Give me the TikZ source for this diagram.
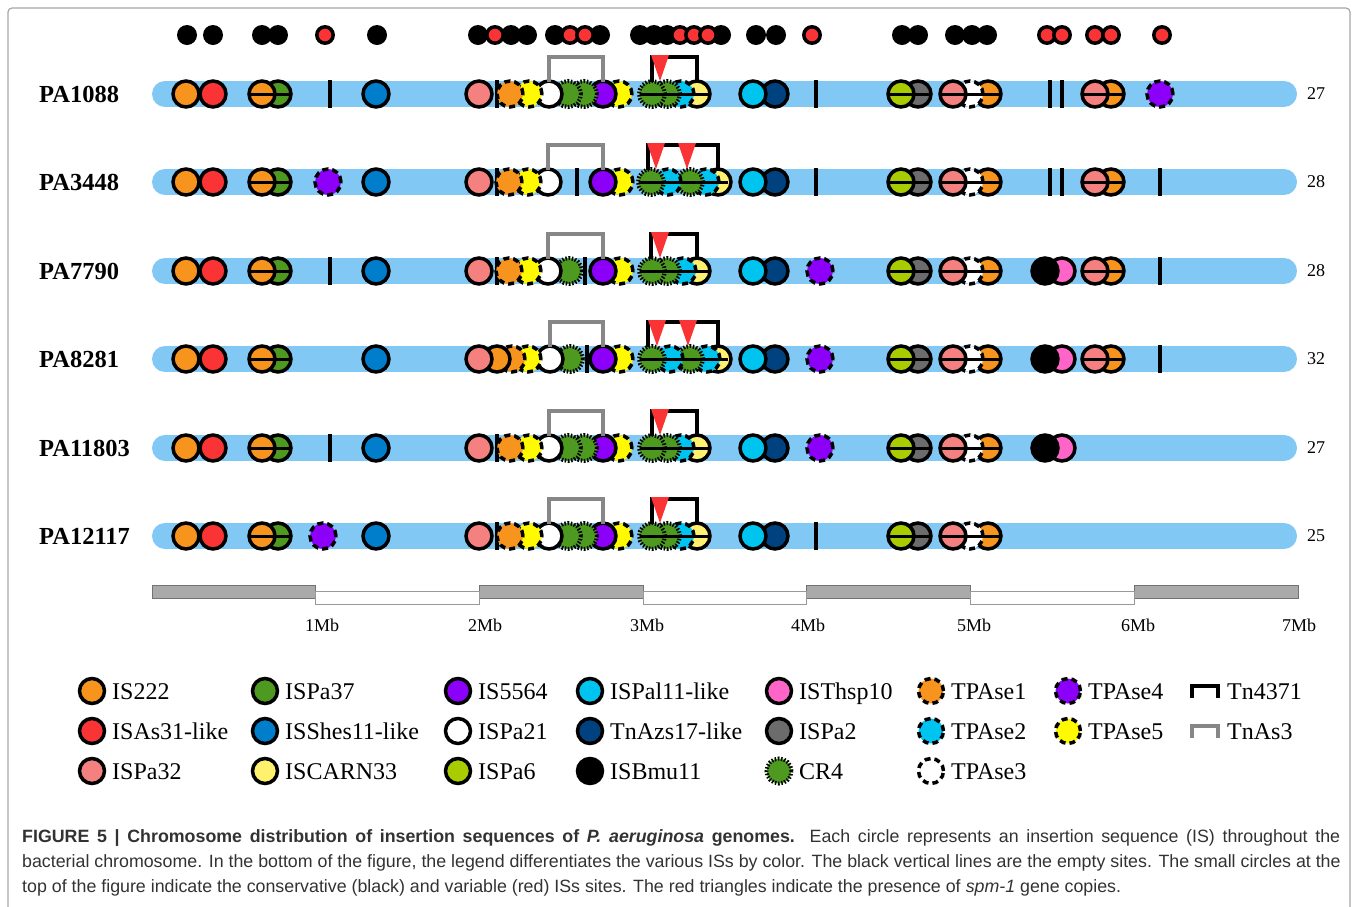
\documentclass[tikz,border=0pt]{standalone}
\usepackage{fontspec}
\usepackage{xcolor}
\usepackage{tikz}
\setmainfont{Liberation Serif}
\newfontfamily\capsans{Liberation Sans}

\definecolor{barblue}{RGB}{130,200,245}
\definecolor{isorange}{RGB}{247,148,29}
\definecolor{isred}{RGB}{250,52,52}
\definecolor{issalmon}{RGB}{245,128,128}
\definecolor{isgreen}{RGB}{78,154,32}
\definecolor{isblue}{RGB}{0,126,204}
\definecolor{iscream}{RGB}{255,240,110}
\definecolor{ispurple}{RGB}{140,0,250}
\definecolor{islime}{RGB}{168,204,0}
\definecolor{iscyan}{RGB}{0,196,240}
\definecolor{isnavy}{RGB}{0,66,128}
\definecolor{ispink}{RGB}{255,100,200}
\definecolor{isgray}{RGB}{108,108,108}
\definecolor{tpyellow}{RGB}{255,250,0}
\definecolor{scalegray}{RGB}{170,170,170}
\definecolor{captext}{RGB}{50,50,50}

\begin{document}
\begin{tikzpicture}[x=1pt, y=-1pt,
    is/.style={draw=black, line width=3.5pt},
    tp/.style={draw=black, line width=3.5pt, dash pattern=on 6pt off 4pt},
    IS222/.style={is, fill=isorange},
    ISAs31/.style={is, fill=isred},
    ISPa32/.style={is, fill=issalmon},
    ISPa37/.style={is, fill=isgreen},
    ISShes11/.style={is, fill=isblue},
    ISCARN33/.style={is, fill=iscream},
    IS5564/.style={is, fill=ispurple},
    ISPa21/.style={is, fill=white},
    ISPa6/.style={is, fill=islime},
    ISPal11/.style={is, fill=iscyan},
    TnAzs17/.style={is, fill=isnavy},
    ISBmu11/.style={is, fill=black},
    ISThsp10/.style={is, fill=ispink},
    ISPa2/.style={is, fill=isgray},
    CR4/.style={fill=isgreen, draw=black, line width=4pt, dash pattern=on 1.5pt off 1.7pt},
    TPAse1/.style={tp, fill=isorange},
    TPAse2/.style={tp, fill=iscyan},
    TPAse3/.style={tp, fill=white},
    TPAse4/.style={tp, fill=ispurple},
    TPAse5/.style={tp, fill=tpyellow},
    site/.style={line width=4pt},
    link/.style={line width=3pt},
    tnas/.style={draw=black!47, line width=4pt},
    tnbr/.style={draw=black, line width=4pt},
    spm/.style={fill=isred},
    genome/.style={font=\bfseries\fontsize{24.5}{28}\selectfont, anchor=west, inner sep=0pt},
    count/.style={font=\fontsize{18}{22}\selectfont, anchor=west, inner sep=0pt},
    key/.style={font=\fontsize{24}{28}\selectfont, anchor=base west, inner sep=0pt},
    mb/.style={font=\fontsize{18}{22}\selectfont},
    captxt/.style={font=\capsans\fontsize{17.8}{20}\selectfont, text=captext, anchor=base west, inner sep=0pt}]

\useasboundingbox (0,0) rectangle (1358,906);
\draw[black!35, line width=1.2pt, rounded corners=4pt] (8,910) |- (1350,8) -- (1350,910);

\foreach \x in {187,213,262,278,377,478,511,527,555,600,640,654,667,721,756,776,902,918,955,972,987}
  \fill (\x,35) circle (10pt);
\foreach \x in {325,495,570,585,680,694,708,812,1047,1062,1095,1111,1162}
  \draw[fill=isred, line width=3.5pt] (\x,35) circle (8.2pt);

\foreach \y in {94,182,271,359,448,536}
  \draw[barblue, line width=26pt, line cap=round] (165,\y) -- (1284,\y);

\begin{scope}[shift={(0,94)}]
  \foreach \x in {330,497,816,1050,1062} \draw[site] (\x,-14) -- (\x,14);
  \foreach \x/\s in {1160/TPAse4, 1111/IS222, 1095/ISPa32, 988/IS222, 970/TPAse3, 953/ISPa32, 918/ISPa2, 901/ISPa6, 775/TnAzs17, 753/ISPal11, 697/ISCARN33, 681/TPAse2, 667/CR4, 652/CR4, 619/TPAse5, 603/IS5564, 584/CR4, 568/CR4, 549/ISPa21, 529/TPAse5, 510/TPAse1, 479/ISPa32, 376/ISShes11, 278/ISPa37, 262/IS222, 213/ISAs31, 186/IS222}
    \draw[\s] (\x,0) circle (13pt);
  \foreach \a/\b in {250/290, 640/708, 889/930, 941/1000, 1083/1123} \draw[link] (\a,0) -- (\b,0);
  \draw[tnas] (549,-12) |- (576,-37) -| (603,-12);
  \draw[tnbr] (652,-12) |- (675,-37) -| (697,-12);
  \fill[spm] (651,-39) -- (669,-39) -- (660,-13) -- cycle;
\end{scope}

\begin{scope}[shift={(0,182)}]
  \foreach \x in {497,577,816,1050,1062,1160} \draw[site] (\x,-14) -- (\x,14);
  \foreach \x/\s in {1111/IS222, 1095/ISPa32, 988/IS222, 970/TPAse3, 953/ISPa32, 918/ISPa2, 901/ISPa6, 775/TnAzs17, 753/ISPal11, 718/ISCARN33, 706/TPAse2, 690/CR4, 668/TPAse2, 651/CR4, 620/TPAse5, 603/IS5564, 548/ISPa21, 528/TPAse5, 509/TPAse1, 479/ISPa32, 376/ISShes11, 328/TPAse4, 278/ISPa37, 262/IS222, 213/ISAs31, 186/IS222}
    \draw[\s] (\x,0) circle (13pt);
  \foreach \a/\b in {250/290, 639/728, 889/930, 941/1000, 1083/1123} \draw[link] (\a,0) -- (\b,0);
  \draw[tnas] (548,-12) |- (576,-37) -| (603,-12);
  \draw[tnbr] (648,-12) |- (683,-37) -| (718,-12);
  \fill[spm] (647,-39) -- (665,-39) -- (656,-13) -- cycle;
  \fill[spm] (678,-39) -- (696,-39) -- (687,-13) -- cycle;
\end{scope}

\begin{scope}[shift={(0,271)}]
  \foreach \x in {330,497,585,1160} \draw[site] (\x,-14) -- (\x,14);
  \foreach \x/\s in {1111/IS222, 1095/ISPa32, 1062/ISThsp10, 1045/ISBmu11, 988/IS222, 970/TPAse3, 953/ISPa32, 918/ISPa2, 901/ISPa6, 820/TPAse4, 775/TnAzs17, 753/ISPal11, 697/ISCARN33, 683/TPAse2, 667/CR4, 652/CR4, 620/TPAse5, 603/IS5564, 569/CR4, 548/ISPa21, 528/TPAse5, 509/TPAse1, 479/ISPa32, 376/ISShes11, 278/ISPa37, 262/IS222, 213/ISAs31, 186/IS222}
    \draw[\s] (\x,0) circle (13pt);
  \foreach \a/\b in {250/290, 640/708, 889/930, 941/1000, 1083/1123} \draw[link] (\a,0) -- (\b,0);
  \draw[tnas] (548,-12) |- (576,-37) -| (603,-12);
  \draw[tnbr] (651,-12) |- (674,-37) -| (697,-12);
  \fill[spm] (651,-39) -- (669,-39) -- (660,-13) -- cycle;
\end{scope}

\begin{scope}[shift={(0,359)}]
  \foreach \x in {587,1160} \draw[site] (\x,-14) -- (\x,14);
  \foreach \x/\s in {1111/IS222, 1095/ISPa32, 1062/ISThsp10, 1045/ISBmu11, 988/IS222, 970/TPAse3, 953/ISPa32, 918/ISPa2, 901/ISPa6, 820/TPAse4, 775/TnAzs17, 753/ISPal11, 718/ISCARN33, 707/TPAse2, 690/CR4, 670/TPAse2, 652/CR4, 620/TPAse5, 603/IS5564, 570/CR4, 550/ISPa21, 528/TPAse5, 512/TPAse1, 497/IS222, 479/ISPa32, 376/ISShes11, 278/ISPa37, 262/IS222, 213/ISAs31, 186/IS222}
    \draw[\s] (\x,0) circle (13pt);
  \foreach \a/\b in {250/290, 640/728, 889/930, 941/1000, 1083/1123} \draw[link] (\a,0) -- (\b,0);
  \draw[tnas] (550,-12) |- (576,-37) -| (603,-12);
  \draw[tnbr] (648,-12) |- (683,-37) -| (718,-12);
  \fill[spm] (648,-39) -- (666,-39) -- (657,-13) -- cycle;
  \fill[spm] (679,-39) -- (697,-39) -- (688,-13) -- cycle;
\end{scope}

\begin{scope}[shift={(0,448)}]
  \foreach \x in {330,497} \draw[site] (\x,-14) -- (\x,14);
  \foreach \x/\s in {1062/ISThsp10, 1045/ISBmu11, 988/IS222, 970/TPAse3, 953/ISPa32, 918/ISPa2, 901/ISPa6, 820/TPAse4, 775/TnAzs17, 753/ISPal11, 697/ISCARN33, 681/TPAse2, 667/CR4, 652/CR4, 619/TPAse5, 603/IS5564, 584/CR4, 568/CR4, 549/ISPa21, 529/TPAse5, 510/TPAse1, 479/ISPa32, 376/ISShes11, 278/ISPa37, 262/IS222, 213/ISAs31, 186/IS222}
    \draw[\s] (\x,0) circle (13pt);
  \foreach \a/\b in {250/290, 640/708, 889/930, 941/1000} \draw[link] (\a,0) -- (\b,0);
  \draw[tnas] (549,-12) |- (576,-37) -| (603,-12);
  \draw[tnbr] (652,-12) |- (675,-37) -| (697,-12);
  \fill[spm] (651,-39) -- (669,-39) -- (660,-13) -- cycle;
\end{scope}

\begin{scope}[shift={(0,536)}]
  \foreach \x in {497,816} \draw[site] (\x,-14) -- (\x,14);
  \foreach \x/\s in {988/IS222, 970/TPAse3, 953/ISPa32, 918/ISPa2, 901/ISPa6, 775/TnAzs17, 753/ISPal11, 697/ISCARN33, 681/TPAse2, 667/CR4, 652/CR4, 619/TPAse5, 603/IS5564, 584/CR4, 568/CR4, 549/ISPa21, 529/TPAse5, 510/TPAse1, 479/ISPa32, 376/ISShes11, 323/TPAse4, 278/ISPa37, 262/IS222, 213/ISAs31, 186/IS222}
    \draw[\s] (\x,0) circle (13pt);
  \foreach \a/\b in {250/290, 640/708, 889/930, 941/1000} \draw[link] (\a,0) -- (\b,0);
  \draw[tnas] (549,-12) |- (576,-37) -| (603,-12);
  \draw[tnbr] (652,-12) |- (675,-37) -| (697,-12);
  \fill[spm] (651,-39) -- (669,-39) -- (660,-13) -- cycle;
\end{scope}

\node[genome] (pa1088) at (39,94) {PA1088};
\node[genome] (pa3448) at (39,182) {PA3448};
\node[genome] (pa7790) at (39,271) {PA7790};
\node[genome] (pa8281) at (39,359) {PA8281};
\node[genome] (pa11803) at (39,448) {PA11803};
\node[genome] (pa12117) at (39,536) {PA12117};

\node[count] (n1088) at (1307,94) {27};
\node[count] (n3448) at (1307,182) {28};
\node[count] (n7790) at (1307,271) {28};
\node[count] (n8281) at (1307,359) {32};
\node[count] (n11803) at (1307,448) {27};
\node[count] (n12117) at (1307,536) {25};

\foreach \a in {0,2,4,6}
  \draw[fill=scalegray, draw=black!55, line width=0.8pt] ({152+163.7*\a},585) rectangle ++(163.7,13);
\foreach \a in {1,3,5}
  \draw[fill=white, draw=black!40, line width=0.8pt] ({152+163.7*\a},591) rectangle ++(163.7,13);
\foreach \m/\x in {1/322, 2/485, 3/647, 4/808, 5/974, 6/1138, 7/1299}
  \node[mb] (mb\m) at (\x,625) {\m Mb};

\foreach \x/\y/\s/\t in {92/691/IS222/IS222, 92/731/ISAs31/ISAs31-like, 92/771/ISPa32/ISPa32,
    265/691/ISPa37/ISPa37, 265/731/ISShes11/ISShes11-like, 265/771/ISCARN33/ISCARN33,
    458/691/IS5564/IS5564, 458/731/ISPa21/ISPa21, 458/771/ISPa6/ISPa6,
    590/691/ISPal11/ISPal11-like, 590/731/TnAzs17/TnAzs17-like, 590/771/ISBmu11/ISBmu11,
    779/691/ISThsp10/ISThsp10, 779/731/ISPa2/ISPa2, 779/771/CR4/CR4,
    931/691/TPAse1/TPAse1, 931/731/TPAse2/TPAse2, 931/771/TPAse3/TPAse3,
    1068/691/TPAse4/TPAse4, 1068/731/TPAse5/TPAse5}
{
  \draw[\s] (\x,\y) circle (12.5pt);
  \node[key] (k\s) at (\x+20,\y+8) {\t};
}
\draw[tnbr] (1192,698) |- (1218,686) -- (1218,698);
\node[key] (ktn4371) at (1227,699) {Tn4371};
\draw[tnas] (1192,738) |- (1218,726) -- (1218,738);
\node[key] (ktnas3) at (1227,739) {TnAs3};

\node[captxt] (cap1) at (22,842) {\makebox[1318pt][s]{\textbf{FIGURE 5 | Chromosome distribution of insertion sequences of \textit{P. aeruginosa} genomes.} Each circle represents an insertion sequence (IS) throughout the}};
\node[captxt] (cap2) at (22,867) {bacterial chromosome. In the bottom of the figure, the legend differentiates the various ISs by color. The black vertical lines are the empty sites. The small circles at the};
\node[captxt] (cap3) at (22,892) {top of the figure indicate the conservative (black) and variable (red) ISs sites. The red triangles indicate the presence of \textit{spm-1} gene copies.};
\end{tikzpicture}
\end{document}
